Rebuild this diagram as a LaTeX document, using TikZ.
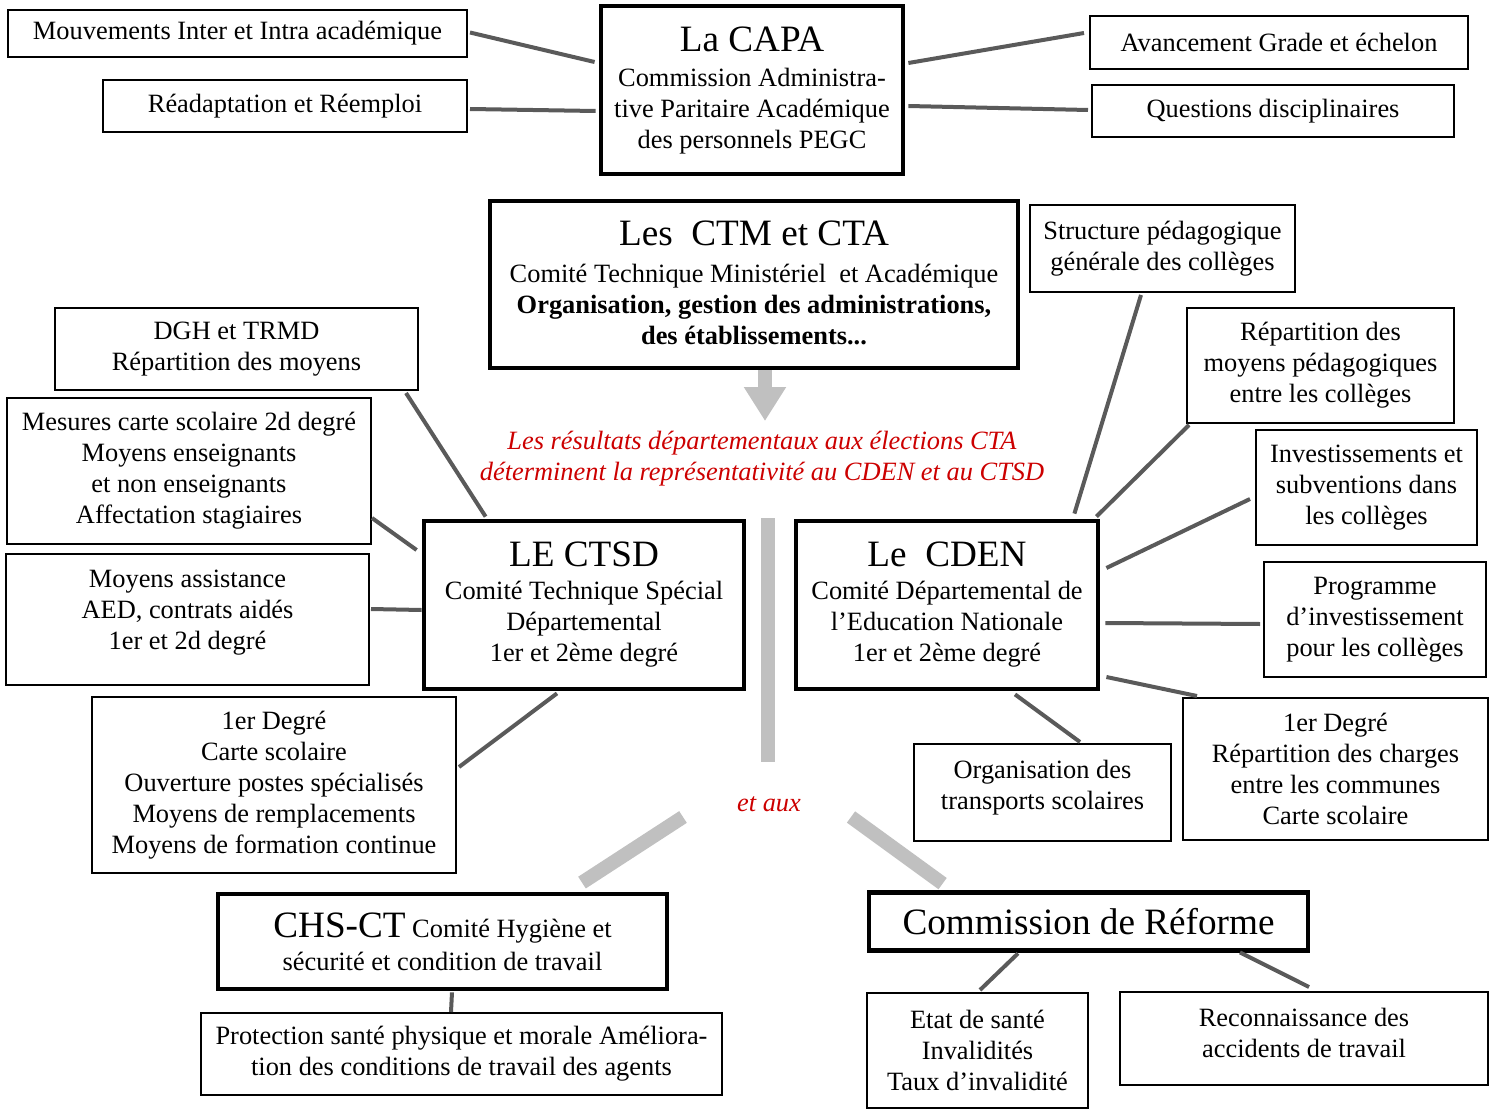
\documentclass[tikz,border=0pt]{standalone}
\usepackage{fontspec}
\setmainfont{Liberation Serif}
\usetikzlibrary{calc,arrows.meta}
\definecolor{lien}{RGB}{90,90,90}
\definecolor{barre}{RGB}{192,192,192}
\definecolor{rouge}{RGB}{204,0,0}
\newcommand{\grandtitre}{\fontsize{18.6}{21}\selectfont}

\begin{document}
\begin{tikzpicture}[x=0.5pt, y=-0.5pt,
    box/.style={draw, line width=1pt, align=center, inner sep=0pt, font=\fontsize{13.2}{15.5}\selectfont},
    bigbox/.style={box, line width=2.4pt},
    link/.style={draw=lien, line width=2pt},
    bar/.style={draw=barre, line width=7pt},
    note/.style={text=rouge, align=center, font=\fontsize{13.2}{15.5}\selectfont\itshape}]
    \useasboundingbox (0,0) rectangle (1495,1113);

    % CAPA
    \node[bigbox, minimum width=151pt, minimum height=84pt] (capa) at (752,90)
        {{\grandtitre La CAPA}\\[2pt]Commission Administra-\\tive Paritaire Académique\\des personnels PEGC};
    \node[box, minimum width=229.5pt, minimum height=23.5pt] (mouv) at (237.5,33.5) {Mouvements Inter et Intra académique};
    \node[box, minimum width=182pt, minimum height=26pt] (reada) at (285,106) {Réadaptation et Réemploi};
    \node[box, minimum width=189pt, minimum height=26.5pt] (avanc) at (1279,42.5) {Avancement Grade et échelon};
    \node[box, minimum width=181pt, minimum height=26pt] (quest) at (1273,111) {Questions disciplinaires};

    \draw[link] ($(mouv.east)+(2,-1)$) -- ($(capa.west)+(-4,-28)$);
    \draw[link] ($(reada.east)+(2,3)$) -- ($(capa.west)+(-3,21)$);
    \draw[link] ($(capa.east)+(3,-27)$) -- ($(avanc.west)+(-5,-9.5)$);
    \draw[link] ($(capa.east)+(3,16)$) -- ($(quest.west)+(-3,-1)$);

    % CTM / CTA
    \coordinate (vote) at (765,421);
    \draw[bar, -{Triangle[width=20pt,length=17pt]}] ($(vote)+(0,-51)$) -- (vote);
    \node[bigbox, minimum width=264pt, minimum height=83.5pt] (ctm) at (754,284.5)
        {{\grandtitre Les~ CTM et CTA}\\[3pt]Comité Technique Ministériel~ et Académique\\
        \textbf{Organisation, gestion des administrations,}\\\textbf{des établissements...}\\[-14pt]\mbox{}};
    \node[note] (resultats) at (762,459)
        {Les résultats départementaux aux élections CTA\\déterminent la représentativité au CDEN et au CTSD};

    % CTSD
    \node[bigbox, minimum width=160pt, minimum height=84pt] (ctsd) at (584,605)
        {{\grandtitre LE CTSD}\\[1pt]Comité Technique Spécial\\Départemental\\1er et 2ème degré};
    \node[box, minimum width=181.5pt, minimum height=41pt] (dgh) at (236.5,349) {DGH et TRMD\\Répartition des moyens};
    \node[box, minimum width=182pt, minimum height=73pt] (mesures) at (189,471)
        {Mesures carte scolaire 2d degré\\Moyens enseignants\\et non enseignants\\Affectation stagiaires};
    \node[box, minimum width=181.5pt, minimum height=65.5pt] (moyass) at (187.5,619.5)
        {Moyens assistance\\AED, contrats aidés\\1er et 2d degré\\[-6pt]\mbox{}};
    \node[box, minimum width=182pt, minimum height=88pt] (ctsdprem) at (274,785)
        {1er Degré\\Carte scolaire\\Ouverture postes spécialisés\\Moyens de remplacements\\Moyens de formation continue};

    \draw[link] ($(dgh.south east)+(-13,2)$) -- ($(ctsd.north west)+(64,-2)$);
    \draw[link] ($(mesures.east)+(0,47)$) -- ($(ctsd.west)+(-5,-55)$);
    \draw[link] ($(moyass.east)+(1,-10.5)$) -- ($(ctsd.west)+(0,5)$);
    \draw[link] ($(ctsd.south)+(-27,2)$) -- ($(ctsdprem.east)+(2,-18)$);

    % CDEN
    \node[bigbox, minimum width=151pt, minimum height=84pt] (cden) at (947,605)
        {{\grandtitre Le~ CDEN}\\[1pt]Comité Départemental de\\l’Education Nationale\\1er et 2ème degré};
    \node[box, minimum width=132.5pt, minimum height=43.5pt] (struct) at (1162.5,248.5)
        {Structure pédagogique\\générale des collèges};
    \node[box, minimum width=133.5pt, minimum height=57.5pt] (repart) at (1320.5,365.5)
        {Répartition des\\moyens pédagogiques\\entre les collèges};
    \node[box, minimum width=110.5pt, minimum height=57.5pt] (invest) at (1366.5,487.5)
        {Investissements et\\subventions dans\\les collèges};
    \node[box, minimum width=111pt, minimum height=57.5pt] (prog) at (1375,619.5)
        {Programme\\d’investissement\\pour les collèges};
    \node[box, minimum width=152.5pt, minimum height=71pt] (cdenprem) at (1335.5,769)
        {1er Degré\\Répartition des charges\\entre les communes\\Carte scolaire};
    \node[box, minimum width=128.5pt, minimum height=48.5pt] (orga) at (1042.5,792.5)
        {Organisation des\\transports scolaires\\[-8pt]\mbox{}};

    \draw[link] ($(struct.south)+(-21.5,2)$) -- ($(cden.north east)+(-26,-5)$);
    \draw[link] ($(repart.south west)+(3,1)$) -- ($(cden.north east)+(-4,-2)$);
    \draw[link] ($(invest.west)+(-5,11.5)$) -- ($(cden.east)+(6,-37)$);
    \draw[link] ($(prog.west)+(-3,4.5)$) -- ($(cden.east)+(5,18)$);
    \draw[link] ($(cden.east)+(6,72)$) -- ($(cdenprem.north west)+(15,-1)$);
    \draw[link] ($(cden.south)+(68,3)$) -- ($(orga.north)+(37.5,-1)$);

    % et aux
    \coordinate (haut) at (768,518);
    \coordinate (bas) at (768,762);
    \draw[bar] (haut) -- (bas);
    \node[note] (etaux) at (769,804) {et aux};
    \coordinate (gauche) at (683,817);
    \coordinate (droite) at (851,817);

    % CHS-CT
    \node[bigbox, minimum width=224.5pt, minimum height=47.5pt] (chsct) at (442.5,941.5)
        {{\grandtitre CHS-CT} Comité Hygiène et\\[1pt]sécurité et condition de travail};
    \node[box, minimum width=260.5pt, minimum height=41pt] (protect) at (461.5,1054)
        {Protection santé physique et morale Améliora-\\tion des conditions de travail des agents};
    \draw[bar] (gauche) -- ($(chsct.north)+(139.5,-9)$);
    \draw[link] ($(chsct.south)+(9.5,1)$) -- ($(protect.north)+(-10.5,0)$);

    % Commission de reforme
    \node[bigbox, minimum width=219.5pt, minimum height=29pt] (cref) at (1088.5,921.5)
        {\grandtitre Commission de Réforme};
    \node[box, minimum width=110.5pt, minimum height=57.5pt] (etat) at (977.5,1050.5)
        {Etat de santé\\Invalidités\\Taux d’invalidité};
    \node[box, minimum width=184pt, minimum height=46.5pt] (reconn) at (1304,1038.5)
        {Reconnaissance des\\accidents de travail\\[-10pt]\mbox{}};
    \draw[bar] (droite) -- ($(cref.north west)+(76,-6.5)$);
    \draw[link] ($(cref.south)+(-70.5,0.5)$) -- ($(etat.north)+(2.5,-2)$);
    \draw[link] ($(cref.south)+(151.5,-0.5)$) -- ($(reconn.north)+(5,-4)$);
\end{tikzpicture}
\end{document}
